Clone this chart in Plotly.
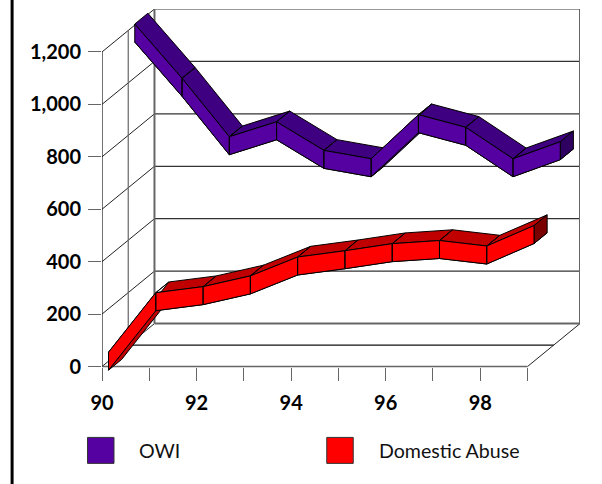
import plotly.graph_objects as go

years = [90, 91, 92, 93, 94, 95, 96, 97, 98, 99]
owi = [1170, 963, 740, 797, 688, 656, 824, 776, 656, 721]
domestic = [0, 227, 250, 291, 363, 387, 414, 426, 405, 483]
y_ticks = [0, 200, 400, 600, 800, 1000, 1200]
y_labels = ["0", "200", "400", "600", "800", "1,000", "1,200"]
x_labels = ["90", "", "92", "", "94", "", "96", "", "98", ""]

W, H = 602, 484
UNIT = 52.5 / 200             # pixels per value unit
BELOW = 40                    # value units of room under zero, for the ribbon's lower edge
ML, MR, MT, MB = 101.5, 22, 9, 117 - BELOW * UNIT
DX, DY = 1.11, 163.8          # full chart depth, in axis units
HALF = 34.3                   # half thickness of a ribbon, in value units
LANE = 0.25                   # ribbon depth as share of the chart depth
GREY = "#666666"
FONT = "Lato"


def seg_lines(points):
    xs, ys = [], []
    for (x0, y0), (x1, y1) in points:
        xs += [x0, x1, None]
        ys += [y0, y1, None]
    return xs, ys


def frame(points, color, width):
    xs, ys = seg_lines(points)
    return go.Scatter(x=xs, y=ys, mode="lines", line=dict(color=color, width=width),
                      hoverinfo="skip", showlegend=False, cliponaxis=False)


def polys(quads, fill, name):
    xs, ys = [], []
    for q in quads:
        xs += [p[0] for p in q] + [q[0][0], None]
        ys += [p[1] for p in q] + [q[0][1], None]
    return go.Scatter(x=xs, y=ys, mode="lines", fill="toself", fillcolor=fill, name=name,
                      line=dict(color="#000000", width=1), showlegend=False, cliponaxis=False)


def ribbon(values, depth, front, top, cap, name):
    ox, oy = DX * depth, DY * depth
    wx, wy = DX * LANE, DY * LANE
    pts = [(x + ox, v + oy) for x, v in zip(years, values)]
    pairs = list(zip(pts[:-1], pts[1:]))
    bottoms = [[(a[0], a[1] - HALF), (b[0], b[1] - HALF),
                (b[0] + wx, b[1] - HALF + wy), (a[0] + wx, a[1] - HALF + wy)] for a, b in pairs]
    tops = [[(a[0], a[1] + HALF), (b[0], b[1] + HALF),
             (b[0] + wx, b[1] + HALF + wy), (a[0] + wx, a[1] + HALF + wy)] for a, b in pairs]
    fronts = [[(a[0], a[1] + HALF), (b[0], b[1] + HALF),
               (b[0], b[1] - HALF), (a[0], a[1] - HALF)] for a, b in pairs]
    e = pts[-1]
    caps = [[(e[0], e[1] + HALF), (e[0] + wx, e[1] + HALF + wy),
             (e[0] + wx, e[1] - HALF + wy), (e[0], e[1] - HALF)]]
    return [polys(bottoms, top, name + " underside"), polys(tops, top, name + " top"),
            polys(caps, cap, name + " end"), polys(fronts, front, name)]


x0, x1 = years[0], years[-1]
top_v = y_ticks[-1]
fig = go.Figure()

# back wall grid, side wall diagonals
fig.add_trace(frame([((x0 + DX, v + DY), (x1 + DX, v + DY)) for v in y_ticks[1:]], "#333333", 1.2))
fig.add_trace(frame([((x0, v), (x0 + DX, v + DY)) for v in y_ticks] +
                    [((x1, 0), (x1 + DX, DY))], "#222222", 1))
fig.add_trace(frame([((x0 + DX / 2, 0 + DY / 2), (x1 + DX / 2, DY / 2))], "#111111", 1.2))
fig.add_trace(frame([((x0 + DX / 2, DY / 2), (x0 + DX / 2, top_v + DY / 2))], GREY, 1.2))
fig.add_trace(frame([((x0 + DX, DY), (x1 + DX, DY)),
                     ((x0 + DX, DY), (x0 + DX, top_v + DY)),
                     ((x1 + DX, DY), (x1 + DX, top_v + DY))], GREY, 2))
# axis lines
fig.add_trace(frame([((x0, 0), (x1, 0))], GREY, 1.5))
fig.add_trace(frame([((x0, 0), (x0, top_v))], "#111111", 1.2))

for t in ribbon(owi, 0.624, "#5500A0", "#3E0080", "#2E0060", "OWI"):
    fig.add_trace(t)
for t in ribbon(domestic, 0.124, "#FF0000", "#C00000", "#7A0000", "Domestic Abuse"):
    fig.add_trace(t)


def px(x):
    return (x - ML) / (W - ML - MR)


def py(y):
    return 1 - (y - MT) / (H - MT - MB)


shapes = [dict(type="rect", xref="paper", yref="paper", x0=px(10), x1=px(13), y0=py(H + 12), y1=py(-5),
               fillcolor="#000000", line=dict(width=0), layer="above")]
legend_items = [("OWI", "#5500A0", 87, 139.5), ("Domestic Abuse", "#FF0000", 326.5, 379.5)]
annotations = []
for label, color, sx, tx in legend_items:
    shapes.append(dict(type="rect", xref="paper", yref="paper", x0=px(sx), x1=px(sx + 26.5),
                       y0=py(464), y1=py(438), fillcolor=color, line=dict(color="#333333", width=1)))
    annotations.append(dict(xref="paper", yref="paper", x=px(tx), y=py(451.5), text=label,
                            showarrow=False, xanchor="left", yanchor="middle", xshift=-3,
                            font=dict(family=FONT, size=19.6, color="#111111", weight=400)))

fig.update_layout(
    width=W, height=H, autosize=False,
    margin=dict(l=ML, r=MR, t=MT, b=MB, pad=0),
    paper_bgcolor="#ffffff", plot_bgcolor="#ffffff", showlegend=False,
    shapes=shapes, annotations=annotations,
    xaxis=dict(range=[x0, x1 + DX], tickmode="array", tickvals=years, ticktext=x_labels,
               anchor="free", position=BELOW / (BELOW + top_v + DY),
               ticks="outside", ticklen=13, tickwidth=1.2, tickcolor=GREY, showgrid=False,
               zeroline=False, showline=False, ticklabelstandoff=5,
               tickfont=dict(family=FONT, size=20, color="#000000", weight="bold")),
    yaxis=dict(range=[-BELOW, top_v + DY], tickmode="array", tickvals=y_ticks, ticktext=y_labels,
               ticks="outside", ticklen=13, tickwidth=1.2, tickcolor=GREY, showgrid=False,
               zeroline=False, showline=False, ticklabelstandoff=3,
               tickfont=dict(family=FONT, size=20, color="#000000", weight="bold")),
)
fig.write_html("out.html", config=dict(displayModeBar=False),
               post_script="document.body.style.margin='0';document.body.style.overflow='hidden';")
